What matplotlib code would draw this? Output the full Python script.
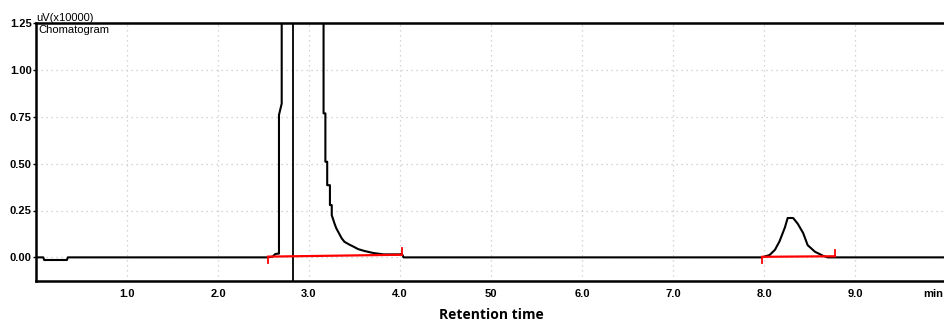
import numpy as np
import matplotlib.pyplot as plt

# chromatogram trace (time in min, signal in uV x10000)
t = [0.0, 0.08, 0.09, 0.34, 0.35, 2.40, 2.55, 2.60, 2.63, 2.66, 2.67, 2.67, 2.70, 2.70,
     3.16, 3.16, 3.18, 3.18, 3.20, 3.20, 3.23, 3.23, 3.25, 3.25, 3.28, 3.30, 3.33, 3.36,
     3.39, 3.44, 3.49, 3.54, 3.61, 3.71, 3.82, 4.00, 4.02, 4.04, 4.06,
     7.98, 8.01, 8.06, 8.12, 8.17, 8.23, 8.26, 8.32, 8.37, 8.43, 8.48, 8.56, 8.65, 8.70, 10.0]
signal = [0.0, 0.0, -0.014, -0.014, 0.0, 0.0, 0.0, 0.004, 0.018, 0.02, 0.02, 0.76, 0.82, 1.6,
          1.6, 0.768, 0.768, 0.51, 0.51, 0.385, 0.385, 0.279, 0.279, 0.225, 0.181, 0.155,
          0.128, 0.101, 0.083, 0.069, 0.057, 0.044, 0.034, 0.023, 0.016, 0.016, 0.02, 0.0, 0.0,
          0.0, 0.005, 0.012, 0.04, 0.085, 0.16, 0.21, 0.21, 0.18, 0.13, 0.065, 0.03, 0.008, 0.0, 0.0]

# integration baselines (start, end) and their levels
base_x = [(2.55, 4.02), (7.98, 8.78)]
base_y = [(0.004, 0.014), (0.003, 0.006)]
cursor_t = 2.82

xticks = [1.0, 2.0, 3.0, 4.0, 5.0, 6.0, 7.0, 8.0, 9.0]
xlabels = ["1.0", "2.0", "3.0", "4.0", "50", "6.0", "7.0", "8.0", "9.0"]
yticks = [0.0, 0.25, 0.5, 0.75, 1.0, 1.25]
ylabels = ["0.00", "0.25", "0.50", "0.75", "1.00", "1.25"]

fig = plt.figure(figsize=(9.44, 3.23), dpi=100)
ax = fig.add_axes([36 / 944, 42 / 323, 910 / 944, 258 / 323])

ax.plot(t, signal, color="black", lw=1.5, zorder=3)
for (x0, x1), (y0, y1) in zip(base_x, base_y):
    ax.plot([x0, x1], [y0, y1], color="red", lw=1.6, zorder=4)
    ax.plot([x0, x0], [y0, y0 - 0.035], color="red", lw=1.3, zorder=4)
    ax.plot([x1, x1], [y1, y1 + 0.035], color="red", lw=1.3, zorder=4)
ax.axvline(cursor_t, color="black", lw=1.3, zorder=3)

ax.set_xlim(0.0, 10.0)
ax.set_ylim(-0.126, 1.25)
ax.set_xticks(xticks)
ax.set_xticklabels(xlabels)
ax.set_yticks(yticks)
ax.set_yticklabels(ylabels)
ax.tick_params(axis="x", length=0, pad=6)
ax.tick_params(axis="y", length=2, width=1, pad=1)
for lab in ax.get_xticklabels() + ax.get_yticklabels():
    lab.set_fontfamily("Liberation Sans")
    lab.set_fontsize(8)
    lab.set_fontweight("bold")

ax.grid(True, color="#c8c8c8", linestyle=(0, (1, 3)), lw=0.9)
for s in ax.spines.values():
    s.set_linewidth(1.8)

# unit label at the right end of the time axis
fig.text(943 / 944, 1 - 294 / 323, "min", fontsize=8, fontweight="bold",
         fontfamily="Liberation Sans", ha="right", va="center")

ax.text(0.0, 1.252, "uV(x10000)", fontsize=8, fontfamily="Liberation Sans",
        va="bottom", ha="left", clip_on=False)
ax.text(0.03, 1.24, "Chomatogram", fontsize=8, fontfamily="Liberation Sans",
        va="top", ha="left")
ax.set_xlabel("Retention time", fontsize=10, fontweight="bold", fontfamily="Open Sans",
              labelpad=6)

fig.savefig("out.png", dpi=100)
